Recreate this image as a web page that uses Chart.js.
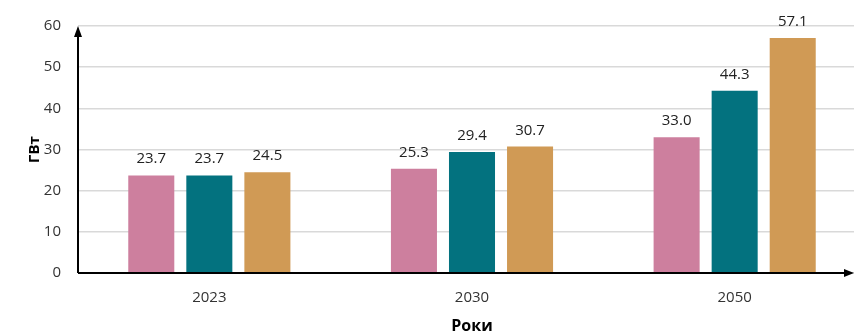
<!DOCTYPE html>
<html>
<head>
<meta charset="utf-8">
<script src="https://cdn.jsdelivr.net/npm/chart.js@4/dist/chart.umd.min.js"></script>
<style>
  html, body { margin: 0; padding: 0; background: #fff; overflow: hidden; }
  #wrap { width: 868px; height: 336px; }
</style>
</head>
<body>
<div id="wrap"><canvas id="powerChart"></canvas></div>
<script>
// values
const years = ['2023', '2030', '2050'];
const seriesPink = [23.7, 25.3, 33.0];
const seriesTeal = [23.7, 29.4, 44.3];
const seriesOrange = [24.5, 30.7, 57.1];
const yTicks = [0, 10, 20, 30, 40, 50, 60];

const textFont = "'Open Sans', 'Segoe UI', sans-serif";

//axis lines with arrows
const arrowAxes = {
  id: 'arrowAxes',
  afterDatasetsDraw: function (chart) {
    const ctx = chart.ctx;
    const area = chart.chartArea;
    const xEnd = area.right - 12;
    ctx.save();
    ctx.strokeStyle = '#000';
    ctx.fillStyle = '#000';
    ctx.lineWidth = 2;
    ctx.beginPath();
    ctx.moveTo(area.left, area.bottom);
    ctx.lineTo(xEnd - 8, area.bottom);
    ctx.moveTo(area.left, area.bottom);
    ctx.lineTo(area.left, area.top + 8);
    ctx.stroke();
    ctx.beginPath();
    ctx.moveTo(xEnd, area.bottom);
    ctx.lineTo(xEnd - 10, area.bottom - 4);
    ctx.lineTo(xEnd - 10, area.bottom + 4);
    ctx.closePath();
    ctx.fill();
    ctx.beginPath();
    ctx.moveTo(area.left, area.top);
    ctx.lineTo(area.left - 4, area.top + 11);
    ctx.lineTo(area.left + 4, area.top + 11);
    ctx.closePath();
    ctx.fill();
    ctx.restore();
  }
};

//value labels over the bars
const barValues = {
  id: 'barValues',
  afterDatasetsDraw: function (chart) {
    const ctx = chart.ctx;
    ctx.save();
    ctx.font = '15px ' + textFont;
    ctx.fillStyle = '#222';
    ctx.textAlign = 'center';
    ctx.textBaseline = 'alphabetic';
    chart.data.datasets.forEach((ds, i) => {
      chart.getDatasetMeta(i).data.forEach((bar, j) => {
        ctx.fillText(ds.data[j].toFixed(1), bar.x, bar.y - 12);
      });
    });
    ctx.restore();
  }
};

new Chart(document.getElementById('powerChart'), {
  type: 'bar',
  data: {
    labels: years,
    datasets: [
      { label: 'Сценарій 1', data: seriesPink, backgroundColor: '#cd7f9e' },
      { label: 'Сценарій 2', data: seriesTeal, backgroundColor: '#03727f' },
      { label: 'Сценарій 3', data: seriesOrange, backgroundColor: '#d09a55' }
    ]
  },
  options: {
    responsive: true,
    maintainAspectRatio: false,
    animation: false,
    categoryPercentage: 0.663,
    barPercentage: 0.793,
    layout: { padding: { top: 22, right: 2, left: 0, bottom: 0 } },
    plugins: {
      legend: { display: false },
      tooltip: { enabled: false }
    },
    scales: {
      x: {
        grid: { display: false, drawTicks: false },
        border: { display: false },
        ticks: { color: '#333', font: { family: textFont, size: 15 }, padding: 16 },
        title: {
          display: true,
          text: 'Роки',
          color: '#000',
          font: { family: textFont, size: 16, weight: 'bold' },
          padding: { top: 0, bottom: 0 }
        },
        afterFit: function (scale) { scale.height = 63; }
      },
      y: {
        min: 0,
        max: 60,
        afterBuildTicks: function (scale) {
          scale.ticks = yTicks.map((v) => { return { value: v }; });
        },
        grid: { color: '#d9d9d9', lineWidth: 1.5, drawTicks: false },
        border: { display: false },
        ticks: { color: '#333', font: { family: textFont, size: 15 }, padding: 17 },
        title: {
          display: true,
          text: 'ГВт',
          color: '#000',
          font: { family: textFont, size: 15, weight: 'bold' },
          padding: { top: 26, bottom: 0 }
        },
        afterFit: function (scale) { scale.width = 78; }
      }
    }
  },
  plugins: [arrowAxes, barValues]
});
</script>
</body>
</html>
